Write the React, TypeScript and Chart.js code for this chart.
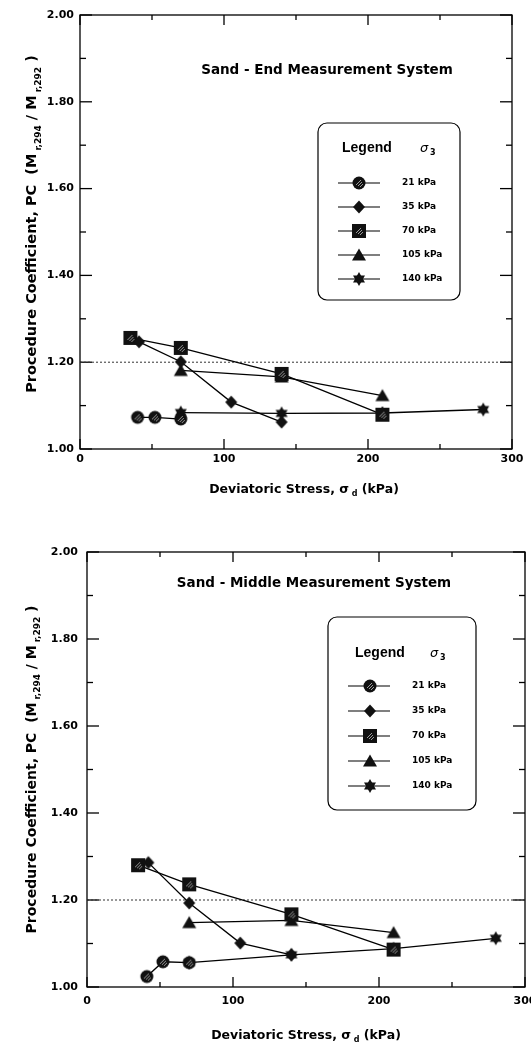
import React, { useEffect, useRef } from "react";
import { Chart, registerables } from "chart.js";

Chart.register(...registerables);

// ---------------- data ----------------
const SERIES_LABELS = ["21 kPa", "35 kPa", "70 kPa", "105 kPa", "140 kPa"];
const SERIES_MARKERS = ["circle", "diamond", "square", "triangle", "star"];

const X_MIN = 0;
const X_MAX = 300;
const X_STEP = 100;
const Y_MIN = 1.0;
const Y_MAX = 2.0;
const Y_STEP = 0.2;
const REF_LINE_Y = 1.2;

// Sand - End Measurement System
const END_21_X = [40, 52, 70];
const END_21_Y = [1.073, 1.073, 1.069];
const END_35_X = [41, 70, 105, 140];
const END_35_Y = [1.247, 1.201, 1.108, 1.062];
const END_70_X = [35, 70, 140, 210];
const END_70_Y = [1.256, 1.233, 1.173, 1.079];
const END_105_X = [70, 140, 210];
const END_105_Y = [1.181, 1.166, 1.123];
const END_140_X = [70, 140, 210, 280];
const END_140_Y = [1.084, 1.082, 1.083, 1.091];

// Sand - Middle Measurement System
const MID_21_X = [41, 52, 70];
const MID_21_Y = [1.024, 1.058, 1.056];
const MID_35_X = [42, 70, 105, 140];
const MID_35_Y = [1.286, 1.193, 1.101, 1.074];
const MID_70_X = [35, 70, 140, 210];
const MID_70_Y = [1.28, 1.236, 1.167, 1.086];
const MID_105_X = [70, 140, 210];
const MID_105_Y = [1.148, 1.153, 1.125];
const MID_140_X = [70, 140, 210, 280];
const MID_140_Y = [1.056, 1.074, 1.088, 1.112];

const END_TITLE = "Sand - End Measurement System";
const MID_TITLE = "Sand - Middle Measurement System";

// ---------------- layout configs ----------------
type LegendCfg = {
  dx: number; dy: number; w: number; h: number;
  headX: number; headY: number; sigX: number;
  row0: number; step: number; lineX0: number; lineX1: number; markX: number; textX: number;
};
type PanelCfg = {
  width: number; height: number; top: number;
  area: { left: number; top: number; right: number; bottom: number };
  yTickPad: number; xTickPad: number;
  title: string; titleDx: number; titleDy: number;
  xTitleDx: number; xTitleDy: number; yTitleX: number; yTitleDy: number; yTitleSize: number;
  legend: LegendCfg;
  xs: number[][]; ys: number[][];
};

const END_CFG: PanelCfg = {
  width: 531, height: 520, top: 0,
  area: { left: 80, top: 15, right: 512, bottom: 449 },
  yTickPad: 6, xTickPad: 4,
  title: END_TITLE, titleDx: 247, titleDy: 54,
  xTitleDx: 8, xTitleDy: 39, yTitleX: 31, yTitleDy: -8, yTitleSize: 14.5,
  legend: { dx: 238, dy: 108, w: 142, h: 177, headX: 24, headY: 25, sigX: 102, row0: 60, step: 24, lineX0: 20, lineX1: 62, markX: 41, textX: 84 },
  xs: [END_21_X, END_35_X, END_70_X, END_105_X, END_140_X],
  ys: [END_21_Y, END_35_Y, END_70_Y, END_105_Y, END_140_Y],
};

const MID_CFG: PanelCfg = {
  width: 550, height: 526, top: 520,
  area: { left: 87, top: 32, right: 525, bottom: 467 },
  yTickPad: 9, xTickPad: 8,
  title: MID_TITLE, titleDx: 227, titleDy: 30,
  xTitleDx: 0, xTitleDy: 47, yTitleX: 31, yTitleDy: 0, yTitleSize: 14,
  legend: { dx: 241, dy: 65, w: 148, h: 193, headX: 27, headY: 36, sigX: 102, row0: 69, step: 25, lineX0: 20, lineX1: 62, markX: 42, textX: 84 },
  xs: [MID_21_X, MID_35_X, MID_70_X, MID_105_X, MID_140_X],
  ys: [MID_21_Y, MID_35_Y, MID_70_Y, MID_105_Y, MID_140_Y],
};

const FAM = "'DejaVu Sans', sans-serif";

// ---------------- helpers ----------------
function makeMarker(kind: string): HTMLCanvasElement {
  const S = 16;
  const c = document.createElement("canvas");
  c.width = S;
  c.height = S;
  const g = c.getContext("2d")!;
  const m = S / 2;
  g.fillStyle = "#111";
  g.beginPath();
  if (kind === "circle") {
    g.arc(m, m, 6.5, 0, Math.PI * 2);
    g.fill();
  } else if (kind === "square") {
    g.rect(m - 7, m - 7, 14, 14);
    g.fill();
  } else if (kind === "diamond") {
    g.moveTo(m, m - 6.5);
    g.lineTo(m + 6, m);
    g.lineTo(m, m + 6.5);
    g.lineTo(m - 6, m);
    g.closePath();
    g.fill();
  } else if (kind === "triangle") {
    g.moveTo(m, m - 6.5);
    g.lineTo(m + 7, m + 5.5);
    g.lineTo(m - 7, m + 5.5);
    g.closePath();
    g.fill();
  } else {
    g.moveTo(m, m - 7);
    g.lineTo(m + 6, m + 3.5);
    g.lineTo(m - 6, m + 3.5);
    g.closePath();
    g.fill();
    g.beginPath();
    g.moveTo(m, m + 7);
    g.lineTo(m + 6, m - 3.5);
    g.lineTo(m - 6, m - 3.5);
    g.closePath();
    g.fill();
  }
  if (kind === "circle" || kind === "square") {
    g.fillStyle = "#9a9a9a";
    for (let i = -3; i <= 3; i++) {
      for (let j = -3; j <= 3; j++) {
        if ((i + j + 8) % 3 === 0 && (i * i + j * j) <= 10) g.fillRect(m + i, m + j, 1, 1);
      }
    }
  }
  return c;
}

type Rich = { t: string; sub?: boolean };

function drawRich(ctx: CanvasRenderingContext2D, parts: Rich[], cx: number, cy: number, size: number, weight = "bold") {
  const subSize = Math.round(size * 0.62);
  let total = 0;
  const ws = parts.map((p) => {
    ctx.font = `${weight} ${p.sub ? subSize : size}px ${FAM}`;
    const w = ctx.measureText(p.t).width;
    total += w;
    return w;
  });
  let x = cx - total / 2;
  ctx.textAlign = "left";
  ctx.textBaseline = "alphabetic";
  const base = cy + size * 0.36;
  parts.forEach((p, i) => {
    ctx.font = `${weight} ${p.sub ? subSize : size}px ${FAM}`;
    ctx.fillText(p.t, x, base + (p.sub ? size * 0.3 : 0));
    x += ws[i];
  });
}

function line(ctx: CanvasRenderingContext2D, x1: number, y1: number, x2: number, y2: number) {
  ctx.beginPath();
  ctx.moveTo(x1, y1);
  ctx.lineTo(x2, y2);
  ctx.stroke();
}

function makeDecor(cfg: PanelCfg, markers: HTMLCanvasElement[]) {
  return {
    id: "decor",
    beforeDatasetsDraw(chart: any) {
      const { ctx, chartArea: a } = chart;
      const xs = chart.scales.x;
      const ys = chart.scales.y;
      ctx.save();
      ctx.strokeStyle = "#000";
      ctx.lineWidth = 1.3;
      ctx.strokeRect(a.left, a.top, a.right - a.left, a.bottom - a.top);
      const yv: number[] = ys.ticks.map((t: any) => t.value);
      const xv: number[] = xs.ticks.map((t: any) => t.value);
      const YMAJ = 12, YMIN = 6, XMAJ = 10, XMIN = 5;
      yv.forEach((v) => {
        const p = ys.getPixelForValue(v);
        line(ctx, a.left, p, a.left + YMAJ, p);
        line(ctx, a.right - YMAJ, p, a.right, p);
      });
      for (let i = 0; i < yv.length - 1; i++) {
        const p = ys.getPixelForValue((yv[i] + yv[i + 1]) / 2);
        line(ctx, a.left, p, a.left + YMIN, p);
        line(ctx, a.right - YMIN, p, a.right, p);
      }
      xv.forEach((v) => {
        const p = xs.getPixelForValue(v);
        line(ctx, p, a.bottom, p, a.bottom - XMAJ);
        line(ctx, p, a.top, p, a.top + XMAJ);
      });
      for (let i = 0; i < xv.length - 1; i++) {
        const p = xs.getPixelForValue((xv[i] + xv[i + 1]) / 2);
        line(ctx, p, a.bottom, p, a.bottom - XMIN);
        line(ctx, p, a.top, p, a.top + XMIN);
      }
      ctx.restore();
    },
    afterDraw(chart: any) {
      const { ctx, chartArea: a } = chart;
      ctx.save();
      ctx.fillStyle = "#000";
      ctx.strokeStyle = "#000";
      // in-plot title
      drawRich(ctx, [{ t: cfg.title }], a.left + cfg.titleDx, a.top + cfg.titleDy, 13.5);
      // x axis title
      drawRich(
        ctx,
        [{ t: "Deviatoric Stress, \u03c3" }, { t: " d", sub: true }, { t: " (kPa)" }],
        (a.left + a.right) / 2 + cfg.xTitleDx,
        a.bottom + cfg.xTitleDy,
        12.5
      );
      // y axis title
      ctx.save();
      ctx.translate(cfg.yTitleX, (a.top + a.bottom) / 2 + cfg.yTitleDy);
      ctx.rotate(-Math.PI / 2);
      drawRich(
        ctx,
        [
          { t: "Procedure Coefficient, PC  (M" },
          { t: " r,294", sub: true },
          { t: " / M" },
          { t: " r,292", sub: true },
          { t: " )" },
        ],
        0,
        0,
        cfg.yTitleSize
      );
      ctx.restore();
      // legend
      const L = cfg.legend;
      const bx = a.left + L.dx;
      const by = a.top + L.dy;
      ctx.lineWidth = 1.2;
      ctx.beginPath();
      (ctx as any).roundRect(bx, by, L.w, L.h, 9);
      ctx.stroke();
      ctx.textAlign = "left";
      ctx.textBaseline = "middle";
      ctx.font = "bold 14px 'Liberation Sans', sans-serif";
      ctx.fillText("Legend", bx + L.headX, by + L.headY);
      ctx.font = "italic 13px 'DejaVu Sans', sans-serif";
      ctx.fillText("\u03c3", bx + L.sigX, by + L.headY + 1);
      ctx.font = `bold 8px ${FAM}`;
      ctx.fillText("3", bx + L.sigX + 10, by + L.headY + 5);
      ctx.lineWidth = 1.2;
      SERIES_LABELS.forEach((lab, i) => {
        const ry = by + L.row0 + i * L.step;
        line(ctx, bx + L.lineX0, ry, bx + L.lineX1, ry);
        const mk = markers[i];
        ctx.drawImage(mk, bx + L.markX - mk.width / 2, ry - mk.height / 2);
        ctx.font = `bold 9px ${FAM}`;
        ctx.fillText(lab, bx + L.textX, ry);
      });
      ctx.restore();
    },
  };
}

function Panel({ cfg }: { cfg: PanelCfg }) {
  const ref = useRef<HTMLCanvasElement>(null);
  useEffect(() => {
    const canvas = ref.current!;
    const markers = SERIES_MARKERS.map(makeMarker);
    const datasets: any[] = cfg.xs.map((xs, i) => ({
      label: SERIES_LABELS[i],
      data: xs.map((x, j) => ({ x, y: cfg.ys[i][j] })),
      showLine: true,
      borderColor: "#000",
      borderWidth: 1.3,
      backgroundColor: "#111",
      pointStyle: markers[i],
      pointRadius: 6,
      order: i,
    }));
    datasets.push({
      label: "ref",
      data: [
        { x: X_MIN, y: REF_LINE_Y },
        { x: X_MAX, y: REF_LINE_Y },
      ],
      showLine: true,
      borderColor: "#333",
      borderWidth: 1,
      borderDash: [2, 2],
      pointRadius: 0,
      order: 99,
    });
    const tickFont = { family: FAM, size: 11, weight: "bold" as const };
    const chart = new Chart(canvas, {
      type: "scatter",
      data: { datasets },
      options: {
        animation: false,
        responsive: false,
        maintainAspectRatio: false,
        events: [],
        layout: {
          padding: { left: 0, top: cfg.area.top, right: cfg.width - cfg.area.right, bottom: 0 },
        },
        plugins: { legend: { display: false }, tooltip: { enabled: false } },
        scales: {
          x: {
            type: "linear",
            position: "bottom",
            min: X_MIN,
            max: X_MAX,
            ticks: { stepSize: X_STEP, color: "#000", font: tickFont, padding: cfg.xTickPad, maxRotation: 0, autoSkip: false },
            grid: { display: false, drawTicks: false },
            border: { display: false },
            afterFit: (s: any) => {
              s.height = cfg.height - cfg.area.bottom;
            },
          },
          y: {
            type: "linear",
            position: "left",
            min: Y_MIN,
            max: Y_MAX,
            ticks: {
              stepSize: Y_STEP,
              color: "#000",
              font: tickFont,
              padding: cfg.yTickPad,
              autoSkip: false,
              callback: (v: any) => Number(v).toFixed(2),
            },
            grid: { display: false, drawTicks: false },
            border: { display: false },
            afterFit: (s: any) => {
              s.width = cfg.area.left;
            },
          },
        },
      } as any,
      plugins: [makeDecor(cfg, markers)],
    });
    return () => chart.destroy();
  }, [cfg]);
  return (
    <canvas
      ref={ref}
      width={cfg.width}
      height={cfg.height}
      style={{ position: "absolute", left: 0, top: cfg.top, width: cfg.width, height: cfg.height, display: "block" }}
    />
  );
}

export default function App() {
  return (
    <div
      style={{
        position: "absolute",
        left: 0,
        top: 0,
        width: 531,
        height: 1046,
        overflow: "hidden",
        background: "#fff",
      }}
    >
      <Panel cfg={END_CFG} />
      <Panel cfg={MID_CFG} />
    </div>
  );
}
